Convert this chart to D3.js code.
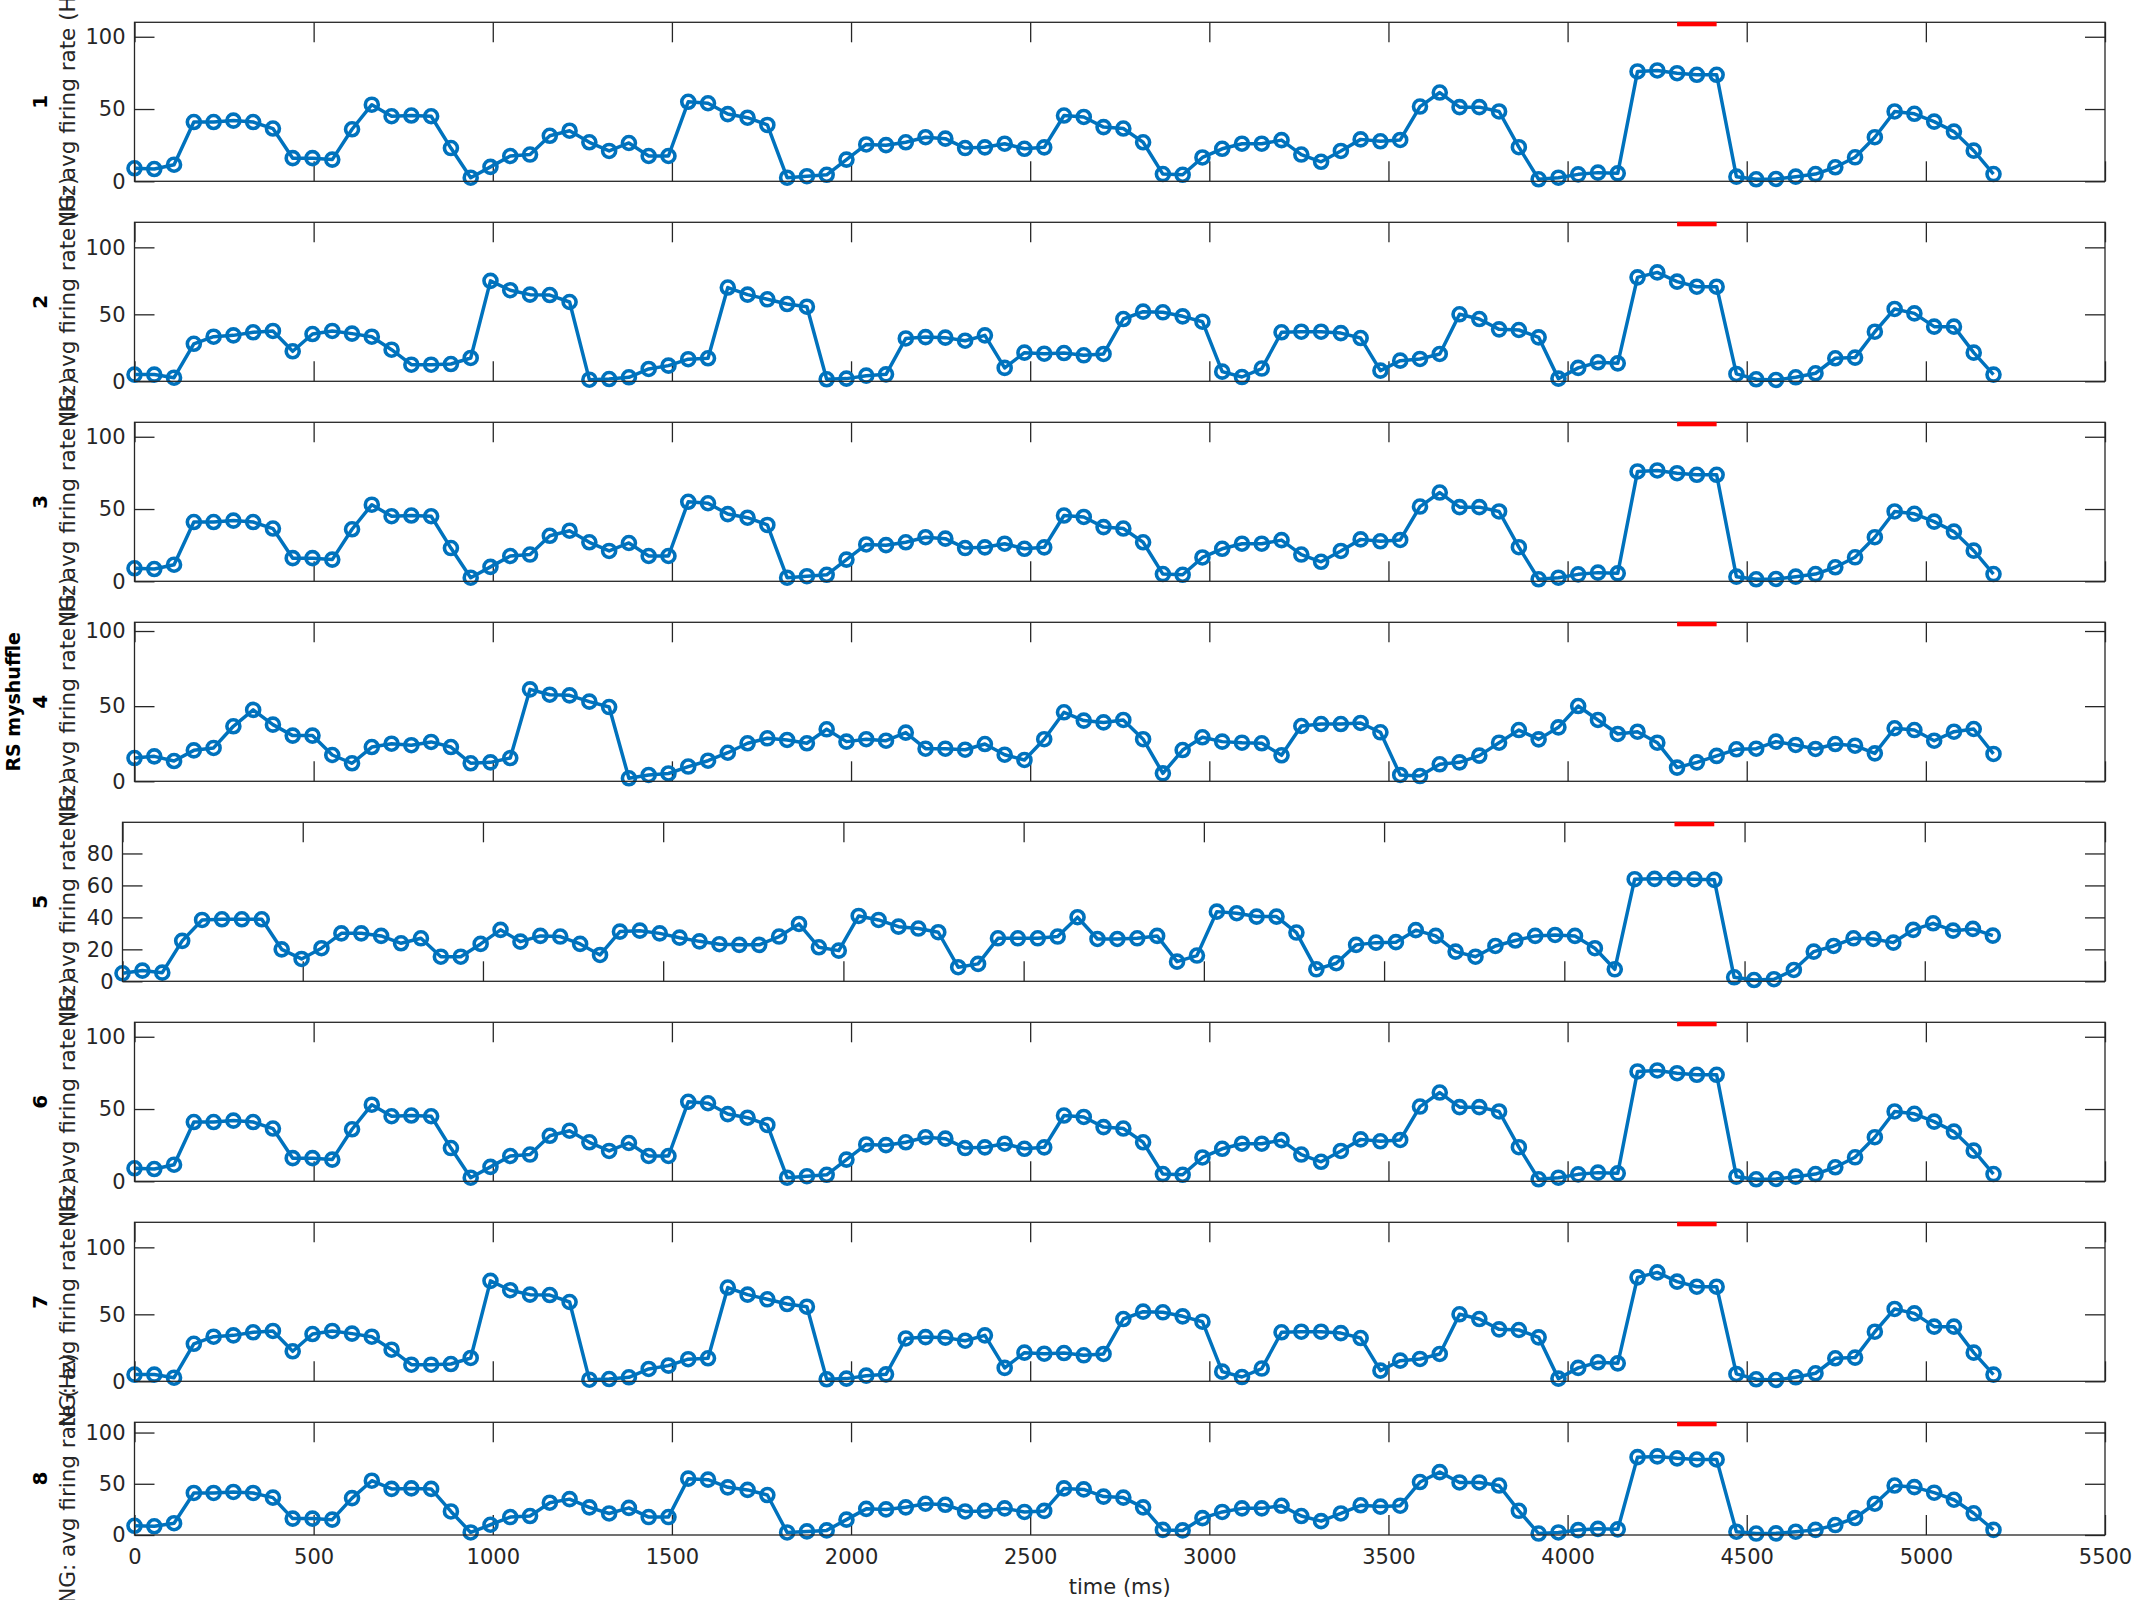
<!DOCTYPE html>
<html><head><meta charset="utf-8">
<script src="https://cdn.jsdelivr.net/npm/d3@7"></script>
<style>body{margin:0;background:#fff}svg{display:block}</style>
</head><body><svg id="chart" width="2133" height="1600"></svg>
<script>
// ---------- data ----------
const timeMs = [0,55.2,110.4,165.6,220.8,276,331.2,386.4,441.6,496.8,
  552,607.2,662.4,717.6,772.8,828,883.2,938.4,993.6,1048.8,
  1104,1159.2,1214.4,1269.6,1324.8,1380,1435.2,1490.4,1545.6,1600.8,
  1656,1711.2,1766.4,1821.6,1876.8,1932,1987.2,2042.4,2097.6,2152.8,
  2208,2263.2,2318.4,2373.6,2428.8,2484,2539.2,2594.4,2649.6,2704.8,
  2760,2815.2,2870.4,2925.6,2980.8,3036,3091.2,3146.4,3201.6,3256.8,
  3312,3367.2,3422.4,3477.6,3532.8,3588,3643.2,3698.4,3753.6,3808.8,
  3864,3919.2,3974.4,4029.6,4084.8,4140,4195.2,4250.4,4305.6,4360.8,
  4416,4471.2,4526.4,4581.6,4636.8,4692,4747.2,4802.4,4857.6,4912.8,
  4968,5023.2,5078.4,5133.6,5188.8];

// panels 1, 3, 6, 8
const seriesA = [9,8.5,11.5,41,41,42,41,36.5,16,16,
  15,36,53,45,45.5,45,23,2.5,10,17.5,
  18.5,31.5,35,27,21,26.5,17.5,17.5,55,54,
  46.5,44,39,2.5,3.5,4.5,15,25.5,25,27,
  30.5,29.5,23,23.5,26,22.5,23.5,45.5,44.5,37.5,
  36.5,27,5,4.5,16.5,22.5,26,26,28.5,18.5,
  13.5,21,29,27.7,28.6,51.7,61.4,51.3,51.3,48.3,
  23.6,1.4,2.5,4.8,6,5.5,76,76.7,74.8,73.7,
  73.7,3.2,1.4,1.6,3.2,5,9.7,16.6,30.5,48.3,
  46.7,41.3,34.4,21.2,5];

// panels 2, 7
const seriesB = [5,5,2.7,28,33.3,34.3,36.6,37.6,22.4,35.3,
  37.6,35.6,33.3,23.6,12.4,12.4,12.9,17.4,75,68,
  64.7,64.4,59.2,1.2,1.7,3,9.2,11.7,16.5,17.2,
  70,64.7,61.2,57.7,55.7,1.5,2,4.2,5.2,32,
  33,32.6,30.3,34.3,10,21.4,20.6,21.1,19.4,20.4,
  46.5,52,51.5,48.5,44.5,7.2,3.2,9.5,36.6,37,
  37,36,32.3,8,15.4,16.7,20.4,50,46.5,38.8,
  38.3,32.8,2,10,14.2,13.4,77.6,81.3,74.4,70.6,
  70.6,5.5,1.5,1,3,6,17.2,17.7,37,54,
  50.7,40.8,40.8,21.4,5];

// panel 4
const seriesC = [15.5,16.6,13.5,20.6,22.2,36.6,47.5,37.7,30.4,30.4,
  17.5,12,22.8,25,24,26.2,22.8,12,12.6,15.5,
  61.2,57.6,57.2,53,49.4,2,4.2,5.2,9.8,13.7,
  19,25.3,28.6,27.5,25.3,34.6,26.4,28,27,32.4,
  21.7,21.7,21,24.8,17.7,14.2,28,45.9,40.4,39.2,
  40.8,28,5.3,20.8,29.3,26.4,25.7,25.3,17.3,36.8,
  38.1,38.1,38.8,32.6,4.2,3.5,11.3,12.6,17.1,25.7,
  34.1,27.9,35.9,50.1,40.8,31.5,33,25.7,9.1,12.6,
  16.9,21.3,21.7,26.4,24.2,21.5,24.8,23.7,18.6,35.3,
  34.1,27,33,34.8,18.2];

// panel 5
const seriesD = [5,6.7,5.4,25.3,38.4,38.8,38.8,38.8,20,14,
  20.7,30,30,28.4,23.8,26.9,15.4,15.4,23.4,32.2,
  24.8,28.4,28,23.4,16.5,31.1,31.7,30,27.3,25,
  23.2,22.8,22.8,28,35.9,21.3,19.2,40.9,38.4,34.2,
  33,30.7,8.8,10.9,26.9,26.9,26.9,28,40.1,26.5,
  26.5,26.9,28.4,12.3,16.1,43.6,42.6,40.5,40.5,30.5,
  7.5,11.3,22.8,24.2,24.5,32,28.4,18.6,15.4,22.1,
  25.5,28.4,29,28.4,20.7,7.5,63.9,64.1,64.1,63.9,
  63.5,2.5,0.8,1.3,7.1,18.6,22.1,26.9,26.5,24.2,
  32.2,36.3,31.7,32.8,28.6];

const panelNames = ["1","2","3","4","5","6","7","8"];
const panelSeries = [seriesA, seriesB, seriesA, seriesC, seriesD, seriesA, seriesB, seriesA];
const panelYMax = [110, 118.7, 110, 105.8, 99.5, 110, 118.7, 110];
const yTicksDefault = [0, 50, 100];
const yTicksPanel5 = [0, 20, 40, 60, 80];
const xTicks = [0,500,1000,1500,2000,2500,3000,3500,4000,4500,5000,5500];
const xDomain = [0, 5500];
const stimWindow = [4305.6, 4416];
const yLabelText = "NG: avg firing rate (Hz)";
const xLabelText = "time (ms)";
const groupLabelText = "RS myshuffle";

// ---------- drawing ----------
const svg = d3.select("#chart");
const FONT = "DejaVu Sans";
const AX = "#262626";
const BLUE = "#0072BD";
const FS = 21;

svg.append("rect").attr("width",2133).attr("height",1600).attr("fill","#fff");

const right = 2105;
const tickLen = 20;

panelSeries.forEach((vals, i) => {
  const top = 22.3 + 200 * i;
  const bottom = (i === 7) ? 1535 : top + 159;
  const left = (i === 4) ? 122.5 : 134.5;
  const x = d3.scaleLinear().domain(xDomain).range([left, right]);
  const y = d3.scaleLinear().domain([0, panelYMax[i]]).range([bottom, top]);
  const yt = (i === 4) ? yTicksPanel5 : yTicksDefault;
  const g = svg.append("g");

  const styleAxis = sel => {
    sel.select(".domain").remove();
    sel.selectAll(".tick line").attr("stroke", AX).attr("stroke-width", 1.3);
    sel.selectAll(".tick text").attr("fill", AX).attr("font-family", FONT).attr("font-size", FS);
  };

  g.append("g").attr("transform", `translate(${left},0)`)
    .call(d3.axisLeft(y).tickValues(yt).tickSize(-tickLen).tickPadding(9).tickFormat(d3.format("d")))
    .call(styleAxis);
  g.append("g").attr("transform", `translate(${right},0)`)
    .call(d3.axisRight(y).tickValues(yt).tickSize(-tickLen).tickFormat(""))
    .call(styleAxis);
  g.append("g").attr("transform", `translate(0,${top})`)
    .call(d3.axisTop(x).tickValues(xTicks).tickSize(-tickLen).tickFormat(""))
    .call(styleAxis);
  const bAxis = d3.axisBottom(x).tickValues(xTicks).tickSize(-tickLen).tickPadding(14)
    .tickFormat(i === 7 ? d3.format("d") : "");
  g.append("g").attr("transform", `translate(0,${bottom})`)
    .call(bAxis).call(styleAxis);

  // data line + markers
  const line = d3.line().x((d, k) => x(timeMs[k])).y(d => y(d));
  g.append("path").datum(vals).attr("d", line)
    .attr("fill", "none").attr("stroke", BLUE).attr("stroke-width", 3.5)
    .attr("stroke-linejoin", "round");
  g.selectAll("circle.m").data(vals).join("circle")
    .attr("class", "m")
    .attr("cx", (d, k) => x(timeMs[k])).attr("cy", d => y(d))
    .attr("r", 6.5).attr("fill", "none").attr("stroke", BLUE).attr("stroke-width", 3.6);

  // frame
  g.append("rect").attr("x", left).attr("y", top)
    .attr("width", right - left).attr("height", bottom - top)
    .attr("fill", "none").attr("stroke", AX).attr("stroke-width", 1.3);

  // stimulus bar
  g.append("rect").attr("x", x(stimWindow[0])).attr("y", top - 0.5)
    .attr("width", x(stimWindow[1]) - x(stimWindow[0])).attr("height", 4.5)
    .attr("fill", "#FF0000");

  // labels
  const cy = (top + bottom) / 2;
  g.append("text").attr("transform", `translate(75,${cy}) rotate(-90)`)
    .attr("text-anchor", "middle").attr("font-family", FONT).attr("font-size", 21.5)
    .attr("fill", AX).text(yLabelText);
  g.append("text").attr("transform", `translate(47,${cy}) rotate(-90)`)
    .attr("text-anchor", "middle").attr("font-family", FONT).attr("font-size", 20)
    .attr("font-weight", "bold").attr("fill", "#000").text(panelNames[i]);
  if (i === 3) {
    g.append("text").attr("transform", `translate(19.5,${cy}) rotate(-90)`)
      .attr("text-anchor", "middle").attr("font-family", FONT).attr("font-size", 19)
      .attr("font-weight", "bold").attr("fill", "#000").text(groupLabelText);
  }
  if (i === 7) {
    g.append("text").attr("x", (left + right) / 2).attr("y", 1594)
      .attr("text-anchor", "middle").attr("font-family", FONT).attr("font-size", FS)
      .attr("fill", AX).text(xLabelText);
  }
});
</script>
</body></html>
